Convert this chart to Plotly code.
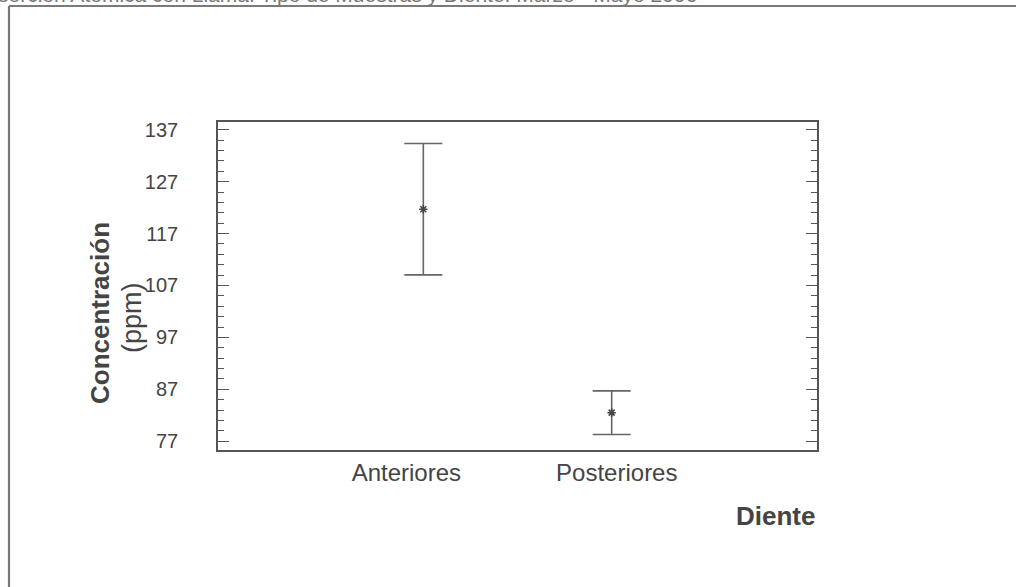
import plotly.graph_objects as go

# Data
categories = ["Anteriores", "Posteriores"]
means = [121.7, 82.5]
errors = [12.65, 4.2]
y_ticks = [77, 87, 97, 107, 117, 127, 137]

W, H = 1016, 587
L, R, T, B = 218, 817, 122, 450
pw, ph = R - L, B - T

def px(x):
    return (x - L) / pw

def py(y):
    return (B - y) / ph

FONT = "Liberation Sans, Arial, sans-serif"

fig = go.Figure()
fig.add_trace(go.Scatter(
    x=categories, y=means, mode="markers",
    marker=dict(symbol="asterisk-open", size=7, color="#444",
                line=dict(color="#444", width=1.5)),
    error_y=dict(type="data", array=errors, visible=True,
                 color="#666", thickness=1.6, width=19),
    showlegend=False,
))

fig.update_layout(
    width=W, height=H,
    margin=dict(l=L, r=W - R, t=T, b=H - B, pad=0),
    paper_bgcolor="white", plot_bgcolor="white",
    xaxis=dict(
        range=[-1.09, 2.09], showgrid=False, zeroline=False,
        showline=True, linecolor="#555", linewidth=1.6, mirror=True,
        tickmode="array", tickvals=[-0.09, 1.027], ticktext=categories,
        ticks="", tickfont=dict(family=FONT, size=24, color="#444"),
        ticklabelstandoff=0,
    ),
    yaxis=dict(
        range=[75.3, 138.5], showgrid=False, zeroline=False,
        showline=True, linecolor="#555", linewidth=1.6, mirror="ticks",
        tickvals=y_ticks, ticktext=[str(v) for v in y_ticks],
        ticks="inside", ticklen=11, tickwidth=1.4, tickcolor="#555",
        tickfont=dict(family=FONT, size=20, color="#444"),
        ticklabelstandoff=34,
        minor=dict(ticks="inside", ticklen=6, tick0=77, dtick=2,
                   tickwidth=1.2, tickcolor="#555"),
    ),
    font=dict(family=FONT, color="#444"),
)

# Outer frame (top and left edges visible)
frame = dict(color="#7a7a7a", width=2.2)
fig.add_shape(type="line", xref="paper", yref="paper",
              x0=px(9), x1=px(1030), y0=py(6), y1=py(6), line=frame)
fig.add_shape(type="line", xref="paper", yref="paper",
              x0=px(9), x1=px(9), y0=py(6), y1=py(600), line=frame)

# Cut-off heading text at the top
fig.add_annotation(
    xref="paper", yref="paper", x=px(-4), y=py(8),
    xanchor="left", yanchor="bottom", showarrow=False,
    text="sorción Atómica con Llama. Tipo de Muestras y Diente. Marzo - Mayo 2006",
    font=dict(family=FONT, size=21, color="#777"),
)

# Y axis title
fig.add_annotation(
    xref="paper", yref="paper", x=px(100), y=py(313),
    xanchor="center", yanchor="middle", showarrow=False, textangle=-90,
    text="<b>Concentración</b>",
    font=dict(family=FONT, size=26, color="#444"),
)
fig.add_annotation(
    xref="paper", yref="paper", x=px(132), y=py(318),
    xanchor="center", yanchor="middle", showarrow=False, textangle=-90,
    text="(ppm)",
    font=dict(family=FONT, size=27, color="#444"),
)

# X axis title
fig.add_annotation(
    xref="paper", yref="paper", x=px(775), y=py(516),
    xanchor="center", yanchor="middle", showarrow=False,
    text="<b>Diente</b>",
    font=dict(family=FONT, size=26, color="#444"),
)

fig.write_html("out.html", config={"displayModeBar": False},
               post_script="document.body.style.margin='0';")
